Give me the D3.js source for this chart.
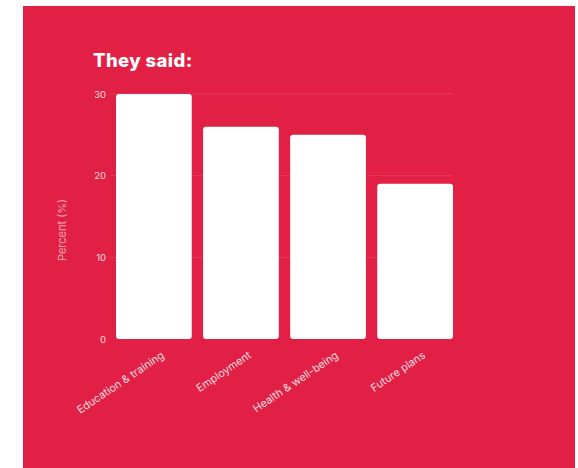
<!DOCTYPE html>
<html>
<head>
<meta charset="utf-8">
<script src="https://cdn.jsdelivr.net/npm/d3@7"></script>
<style>
  body { margin: 0; background: #fff; }
  svg { display: block; font-family: Inter, "Noto Sans", sans-serif; }
</style>
</head>
<body>
<svg id="chart" width="578" height="468"></svg>
<script>
"use strict";

// data
const categories = ["Education & training", "Employment", "Health & well-being", "Future plans"];
const values = [30, 26, 25, 19];
const yTicks = [0, 10, 20, 30];
const title = "They said:";
const yLabel = "Percent (%)";

const svg = d3.select("#chart");
const red = "#e22045";

// red panel
svg.append("rect")
  .attr("x", 23).attr("y", 6)
  .attr("width", 552).attr("height", 462)
  .attr("fill", red);

svg.append("text")
  .attr("x", 93).attr("y", 67)
  .attr("fill", "#fff")
  .attr("font-size", 18.5)
  .attr("font-weight", 800)
  .attr("letter-spacing", 0.4)
  .text(title);

const x = d3.scaleBand()
  .domain(categories)
  .range([116, 453])
  .paddingInner(0.13)
  .paddingOuter(0);

const y = d3.scaleLinear()
  .domain([0, 30])
  .range([339, 94]);

// grid lines
svg.append("g")
  .selectAll("line")
  .data(yTicks.filter(d => d > 0))
  .join("line")
  .attr("x1", 110).attr("x2", 453)
  .attr("y1", d => y(d)).attr("y2", d => y(d))
  .attr("stroke", "#fff")
  .attr("stroke-opacity", 0.12);

// y axis
const yAxis = d3.axisLeft(y).tickValues(yTicks).tickSize(0).tickPadding(0);
const gY = svg.append("g")
  .attr("transform", "translate(106,0)")
  .call(yAxis);
gY.select(".domain").remove();
gY.selectAll("text")
  .attr("fill", "#fff")
  .attr("fill-opacity", 0.85)
  .attr("font-size", 9.5)
  .attr("font-family", "Inter, sans-serif");

svg.append("text")
  .attr("transform", "translate(66,230) rotate(-90)")
  .attr("text-anchor", "middle")
  .attr("fill", "#fff")
  .attr("fill-opacity", 0.6)
  .attr("font-size", 11)
  .text(yLabel);

// bars
svg.append("g")
  .selectAll("rect")
  .data(values)
  .join("rect")
  .attr("x", (d, i) => x(categories[i]))
  .attr("y", d => y(d))
  .attr("width", x.bandwidth())
  .attr("height", d => y(0) - y(d))
  .attr("rx", 3)
  .attr("fill", "#fff");

// x labels
svg.append("g")
  .selectAll("text")
  .data(categories)
  .join("text")
  .attr("transform", d => "translate(" + (x(d) + x.bandwidth() / 2 + 11) + ",357) rotate(-34)")
  .attr("text-anchor", "end")
  .attr("fill", "#fff")
  .attr("fill-opacity", 0.85)
  .attr("font-size", 10.8)
  .text(d => d);
</script>
</body>
</html>
